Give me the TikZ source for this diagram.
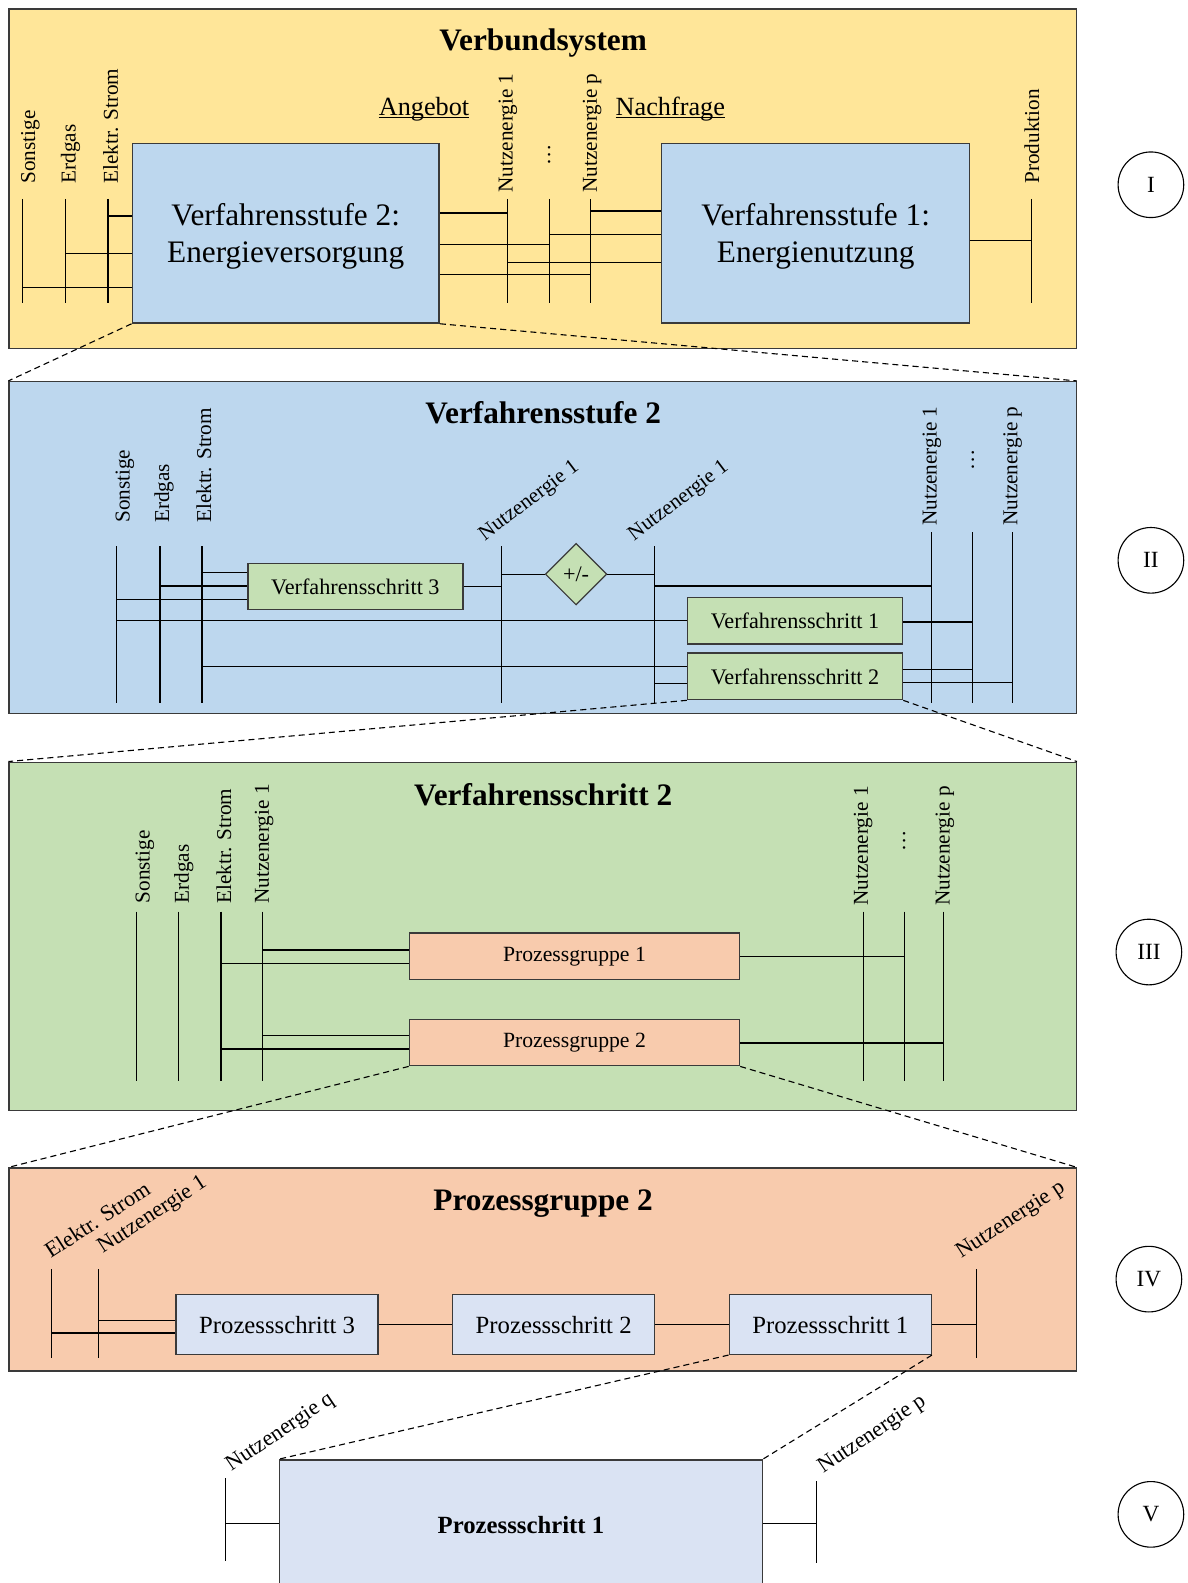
\documentclass[tikz,border=0pt]{standalone}
\usepackage{fontspec}
\setmainfont{Liberation Serif}
\usetikzlibrary{shapes.geometric}

\definecolor{verbund}{HTML}{FFE699}
\definecolor{stufe}{HTML}{BDD7EE}
\definecolor{schritt}{HTML}{C5E0B4}
\definecolor{gruppe}{HTML}{F8CBAD}
\definecolor{prozess}{HTML}{DAE3F3}
\definecolor{rand}{HTML}{3A3A3A}

\tikzset{
  panel/.style={draw=rand, line width=1.4pt, minimum width=1057pt, inner sep=0pt},
  titel/.style={font=\fontsize{31}{36}\selectfont\bfseries},
  block/.style={draw=rand, line width=1.4pt, inner sep=0pt, align=center},
  bus/.style={line width=1.2pt},
  lbl/.style={rotate=90, anchor=west, inner sep=0pt, font=\fontsize{21}{21}\selectfont},
  schraeg/.style={rotate=37, anchor=base west, inner sep=0pt, font=\fontsize{21}{21}\selectfont},
  zoomline/.style={line width=1.1pt, dash pattern=on 6pt off 4pt},
  ebene/.style={draw, circle, line width=1.1pt, minimum size=65pt, inner sep=0pt, font=\fontsize{23}{23}\selectfont}
}

\begin{document}
\begin{tikzpicture}[x=1pt, y=-1pt]
\useasboundingbox (0,0) rectangle (1176,1568);
\clip (0,0) rectangle (1176,1568);

% the four levels
\node[panel, fill=verbund, minimum height=336pt] (p1) at (537.5,177) {};
\node[panel, fill=stufe, minimum height=329pt] (p2) at (537.5,542.5) {};
\node[panel, fill=schritt, minimum height=345pt] (p3) at (537.5,927.5) {};
\node[panel, fill=gruppe, minimum height=201pt] (p4) at (537.5,1257.5) {};

%%% level I
\node[titel] (t1) at (538,43) {Verbundsystem};
\node[block, fill=stufe, minimum width=304pt, minimum height=178pt] (vs2) at (283,231) {};
\node[block, fill=stufe, minimum width=305pt, minimum height=178pt] (vs1) at (808,231) {};
\node[align=center, font=\fontsize{31}{36}\selectfont] (vs2t) at ([yshift=-3pt]vs2.center) {Verfahrensstufe 2:\\Energieversorgung};
\node[align=center, font=\fontsize{31}{36}\selectfont] (vs1t) at ([yshift=-3pt]vs1.center) {Verfahrensstufe 1:\\Energienutzung};

\foreach \n/\x in {so1/22, er1/65, el1/107, na1/503, nd1/544, np1/585, pr1/1022}
  \draw[bus] (\x,197) coordinate (\n) -- ++(0,103);

\node[lbl] (lso1) at ([xshift=8pt,yshift=15pt]so1) {Sonstige};
\node[lbl] (ler1) at ([xshift=5pt,yshift=15pt]er1) {Erdgas};
\node[lbl] (lel1) at ([xshift=2.5pt,yshift=15pt]el1) {Elektr. Strom};
\node[lbl] (lna1) at ([yshift=6pt]na1) {Nutzenergie 1};
\node[lbl, anchor=center] (lnd1) at ([yshift=44pt]nd1) {\dots};
\node[lbl] (lnp1) at ([xshift=1.5pt,yshift=6pt]np1) {Nutzenergie p};
\node[lbl] (lpr1) at ([yshift=15pt]pr1) {Produktion};

\node[inner sep=0pt, anchor=base, font=\fontsize{26}{26}\selectfont] (ang) at (420,114) {Angebot};
\node[inner sep=0pt, anchor=base, font=\fontsize{26}{26}\selectfont] (nach) at (664,114) {Nachfrage};
\draw[line width=1pt] ([yshift=-2.5pt]ang.base west) -- ([yshift=-2.5pt]ang.base east);
\draw[line width=1pt] ([yshift=-2.5pt]nach.base west) -- ([yshift=-2.5pt]nach.base east);

\foreach \a/\b/\y in {el1/vs2.west/214, er1/vs2.west/251, so1/vs2.west/285,
    vs2.east/na1/211, vs2.east/nd1/242, vs2.east/np1/272,
    np1/vs1.west/209, nd1/vs1.west/232, na1/vs1.west/260, vs1.east/pr1/238}
  \draw[bus] (\a |- 0,\y) -- (\b |- 0,\y);

%%% level II
\node[titel] (t2) at (538,409) {Verfahrensstufe 2};
\node[block, fill=schritt, minimum width=213pt, minimum height=46pt, font=\fontsize{22}{22}\selectfont] (vsch3) at (352,581) {Verfahrensschritt 3};
\node[diamond, draw=rand, fill=schritt, line width=1.2pt, minimum width=61pt, minimum height=61pt, inner sep=0pt, font=\fontsize{22}{22}\selectfont] (bil) at (570.6,568.7) {+/-};
\node[block, fill=schritt, minimum width=213pt, minimum height=46pt, font=\fontsize{22}{22}\selectfont] (vsch1) at (787.5,615) {Verfahrensschritt 1};
\node[block, fill=schritt, minimum width=213pt, minimum height=46pt, font=\fontsize{22}{22}\selectfont] (vsch2) at (787.5,670) {Verfahrensschritt 2};

\foreach \n/\x in {so2/115.6, er2/158.5, el2/200, nb2/497, nc2/648}
  \draw[bus] (\x,541) coordinate (\n) -- ++(0,155);
\foreach \n/\x in {nr2/923, nd2/963.6, np2/1003}
  \draw[bus] (\x,527) coordinate (\n) -- ++(0,169);

\node[lbl] (lso2) at ([xshift=8pt,yshift=23pt]so2) {Sonstige};
\node[lbl] (ler2) at ([xshift=4pt,yshift=23pt]er2) {Erdgas};
\node[lbl] (lel2) at ([xshift=2pt,yshift=23pt]el2) {Elektr. Strom};
\node[schraeg] (lnb2) at ([xshift=-17pt,yshift=5pt]nb2) {Nutzenergie 1};
\node[schraeg] (lnc2) at ([xshift=-20pt,yshift=5pt]nc2) {Nutzenergie 1};
\node[lbl] (lnr2) at ([yshift=6pt]nr2) {Nutzenergie 1};
\node[lbl, anchor=center] (lnd2) at ([yshift=71pt]nd2) {\dots};
\node[lbl] (lnp2) at ([yshift=6pt]np2) {Nutzenergie p};

\foreach \a/\b/\y in {el2/vsch3.west/567, er2/vsch3.west/580.5, so2/vsch3.west/594,
    vsch3.east/nb2/581, nb2/bil.west/568.7, bil.east/nc2/568.7,
    so2/vsch1.west/615, el2/vsch2.west/660, nc2/vsch2.west/677, nc2/nr2/580.5,
    vsch1.east/nd2/616, vsch2.east/nd2/663, vsch2.east/np2/676}
  \draw[bus] (\a |- 0,\y) -- (\b |- 0,\y);

%%% level III
\node[titel] (t3) at (538,787) {Verfahrensschritt 2};
\node[block, fill=gruppe, minimum width=327pt, minimum height=46pt, font=\fontsize{21.5}{21.5}\selectfont] (pg1) at (569,947.3) {Prozessgruppe 1};
\node[block, fill=gruppe, minimum width=327pt, minimum height=46pt, font=\fontsize{21.5}{21.5}\selectfont] (pg2) at (569,1032.6) {Prozessgruppe 2};

\foreach \n/\x in {so3/135.4, er3/177, el3/218.8, na3/259.7, nr3/855, nd3/895.6, np3/934.5}
  \draw[bus] (\x,903) coordinate (\n) -- ++(0,168);

\node[lbl] (lso3) at ([xshift=8pt,yshift=8pt]so3) {Sonstige};
\node[lbl] (ler3) at ([xshift=5pt,yshift=8pt]er3) {Erdgas};
\node[lbl] (lel3) at ([xshift=3pt,yshift=8pt]el3) {Elektr. Strom};
\node[lbl] (lna3) at ([xshift=2pt,yshift=8pt]na3) {Nutzenergie 1};
\node[lbl] (lnr3) at ([yshift=6pt]nr3) {Nutzenergie 1};
\node[lbl, anchor=center] (lnd3) at ([yshift=70pt]nd3) {\dots};
\node[lbl] (lnp3) at ([xshift=1.5pt,yshift=6pt]np3) {Nutzenergie p};

\foreach \a/\b/\y in {na3/pg1.west/941, el3/pg1.west/954.4, na3/pg2.west/1026, el3/pg2.west/1039,
    pg1.east/nd3/947.4, pg2.east/np3/1033}
  \draw[bus] (\a |- 0,\y) -- (\b |- 0,\y);

%%% level IV
\node[titel] (t4) at (538,1192) {Prozessgruppe 2};
\node[block, fill=prozess, minimum width=200pt, minimum height=59pt, font=\fontsize{24.5}{24.5}\selectfont] (ps3) at (274.5,1312) {Prozessschritt 3};
\node[block, fill=prozess, minimum width=200pt, minimum height=59pt, font=\fontsize{24.5}{24.5}\selectfont] (ps2) at (548.4,1312) {Prozessschritt 2};
\node[block, fill=prozess, minimum width=200pt, minimum height=59pt, font=\fontsize{24.5}{24.5}\selectfont] (ps1) at (822.4,1312) {Prozessschritt 1};

\foreach \n/\x in {el4/51.2, na4/97.8, np4/967}
  \draw[bus] (\x,1257) coordinate (\n) -- ++(0,88);

\node[schraeg, rotate=-4, font=\fontsize{22}{22}\selectfont] (lel4) at ([xshift=-1pt,yshift=10pt]el4) {Elektr. Strom};
\node[schraeg, rotate=-4, font=\fontsize{22}{22}\selectfont] (lna4) at ([xshift=4pt,yshift=15pt]na4) {Nutzenergie 1};
\node[schraeg, rotate=-4, font=\fontsize{22}{22}\selectfont] (lnp4) at ([xshift=-15pt,yshift=10pt]np4) {Nutzenergie p};

\draw[bus] (na4 |- 0,1307.7) -- (ps3.west |- 0,1307.7);
\draw[bus] (el4 |- 0,1320.3) -- (ps3.west |- 0,1320.3);
\draw[bus] (ps3.east) -- (ps2.west);
\draw[bus] (ps2.east) -- (ps1.west);
\draw[bus] (ps1.east) -- (np4 |- ps1.east);

%%% level V
\node[block, fill=prozess, minimum width=478pt, minimum height=130pt, font=\fontsize{24.5}{24.5}\selectfont\bfseries] (psg) at (516,1511) {Prozessschritt 1};
\draw[bus] (223,1464) coordinate (nq5) -- ++(0,82);
\draw[bus] (808.5,1467) coordinate (np5) -- ++(0,81);
\node[schraeg, rotate=-3, font=\fontsize{22}{22}\selectfont] (lnq5) at ([xshift=6pt,yshift=6pt]nq5) {Nutzenergie q};
\node[schraeg, rotate=-3, font=\fontsize{22}{22}\selectfont] (lnp5) at ([xshift=7pt,yshift=7pt]np5) {Nutzenergie p};
\draw[bus] (nq5 |- 0,1509) -- (psg.west |- 0,1509);
\draw[bus] (psg.east |- 0,1509) -- (np5 |- 0,1509);

% zoom lines
\draw[zoomline] (vs2.south west) -- (p2.north west);
\draw[zoomline] (vs2.south east) -- (p2.north east);
\draw[zoomline] (vsch2.south west) -- (p3.north west);
\draw[zoomline] (vsch2.south east) -- (p3.north east);
\draw[zoomline] (pg2.south west) -- (p4.north west);
\draw[zoomline] (pg2.south east) -- (p4.north east);
\draw[zoomline] (ps1.south west) -- (psg.north west);
\draw[zoomline] (ps1.south east) -- (psg.north east);

% level marks
\node[ebene] (e1) at (1140,183) {I};
\node[ebene] (e2) at (1140,555) {II};
\node[ebene] (e3) at (1138,943) {III};
\node[ebene] (e4) at (1138,1267) {IV};
\node[ebene] (e5) at (1140,1500) {V};

\end{tikzpicture}
\end{document}
